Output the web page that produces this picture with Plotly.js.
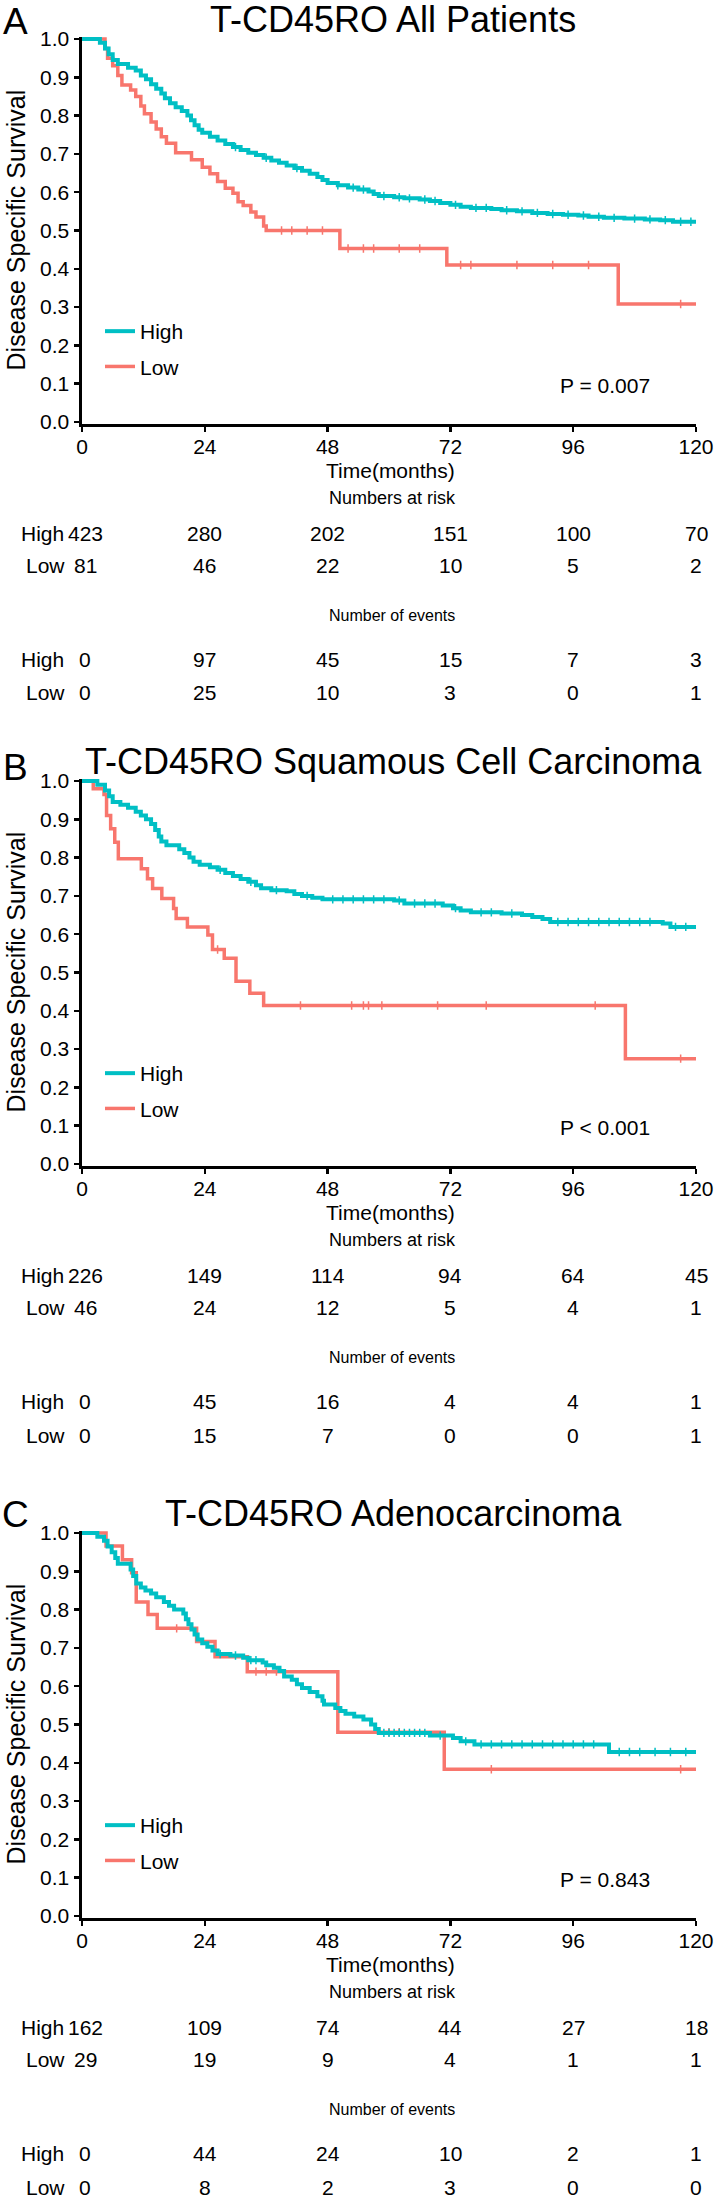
<!DOCTYPE html>
<html>
<head>
<meta charset="utf-8">
<script src="https://cdn.plot.ly/plotly-3.0.1.min.js"></script>
<style>html,body{margin:0;padding:0;background:#fff;}</style>
</head>
<body>
<div id="chart" style="width:721px;height:2200px;"></div>
<script>
// ---------------- DATA ----------------
const timeTicks = [0, 24, 48, 72, 96, 120];
const survTicks = [0, 0.1, 0.2, 0.3, 0.4, 0.5, 0.6, 0.7, 0.8, 0.9, 1.0];
const panelLetters = ['A', 'B', 'C'];
const panelTitles = ['T-CD45RO All Patients', 'T-CD45RO Squamous Cell Carcinoma', 'T-CD45RO Adenocarcinoma'];
const pValues = ['P = 0.007', 'P < 0.001', 'P = 0.843'];
const groupNames = ['High', 'Low'];
const xTitle = 'Time(months)';
const yTitle = 'Disease Specific Survival';

// Panel A – All patients
const A_high_t = [0,3.5,4.5,5.2,6,7,9,10.5,11.5,12.5,13.5,14.5,15.5,16.2,17.2,18.3,19.5,20.6,21.3,22,22.8,23.5,25,26.5,28,29.5,31,32.5,34,35.5,37,38.5,40,41.5,43,44.5,46,47,48,50,52,54,56,57,58,61,63,66,68,70,72,74,76,80,82,85,88,91,94,97,99,102,106,110,113,115.5,120];
const A_high_s = [1.0,0.99,0.975,0.96,0.945,0.935,0.925,0.918,0.905,0.895,0.882,0.87,0.858,0.845,0.832,0.822,0.812,0.8,0.788,0.775,0.763,0.755,0.745,0.735,0.726,0.718,0.71,0.703,0.697,0.69,0.683,0.677,0.67,0.663,0.656,0.648,0.64,0.632,0.624,0.618,0.612,0.607,0.602,0.595,0.59,0.587,0.584,0.581,0.577,0.572,0.567,0.562,0.559,0.556,0.553,0.55,0.546,0.543,0.541,0.539,0.536,0.533,0.531,0.529,0.527,0.523,0.523];
const A_high_cens = [30,36,42,50,53,55,59,62,64,67,69,73,77,79,83,86,89,92,95,98,101,104,108,111,114,117,119];
const A_low_t = [0,4.5,5,6,7,7.8,9.5,10.5,11.5,12.2,13.5,14.5,15.5,16.5,18.3,21.4,23.5,25,26.5,28,29.5,30.5,31.5,33,34,35.5,36,50.4,71.3,104.8,120];
const A_low_s = [1,0.975,0.95,0.93,0.905,0.88,0.867,0.85,0.825,0.805,0.783,0.765,0.745,0.728,0.703,0.685,0.665,0.648,0.628,0.61,0.597,0.575,0.565,0.548,0.535,0.512,0.5,0.453,0.41,0.308,0.308];
const A_low_cens = [39,41,44,47,52,55,57,62,66,74,76,85,92,99,117];
const A_risk_high = [423, 280, 202, 151, 100, 70];
const A_risk_low = [81, 46, 22, 10, 5, 2];
const A_events_high = [0, 97, 45, 15, 7, 3];
const A_events_low = [0, 25, 10, 3, 0, 1];

// Panel B – Squamous cell carcinoma
const B_high_t = [0,3,4.5,5.3,6,7.5,9,10.5,11.5,12.5,13.5,14.3,15,15.5,16.5,19,20,21,21.8,23,25,26.5,28,29.5,31,32.5,34,35,37,40,41.5,43,45,47,61,63,70.5,72.5,74,76,82,86,88,90,91.5,113.5,115,120];
const B_high_s = [1,0.99,0.975,0.96,0.945,0.938,0.93,0.92,0.91,0.9,0.888,0.872,0.855,0.842,0.832,0.822,0.812,0.8,0.789,0.781,0.775,0.768,0.76,0.752,0.744,0.737,0.728,0.72,0.715,0.712,0.705,0.7,0.695,0.691,0.688,0.68,0.675,0.668,0.662,0.657,0.654,0.65,0.645,0.64,0.632,0.628,0.619,0.619];
const B_high_cens = [27,33,38,44,49,51,53,55,57,59,62,65,67,69,73,78,80,84,93,95,97,99,101,103,105,107,109,111,116,118];
const B_low_t = [0,2.2,4.3,4.8,5.6,6.4,7.1,11.6,12.8,13.8,15.6,17.9,18.4,20.6,24.6,25.5,27.8,30.1,32.8,35.5,106.2,120];
const B_low_s = [1,0.98,0.965,0.91,0.875,0.84,0.797,0.771,0.745,0.719,0.693,0.667,0.641,0.619,0.598,0.56,0.537,0.477,0.446,0.414,0.275,0.275];
const B_low_cens = [26.5,42.7,52.7,55,56,58.6,69.5,79,100.3,117];
const B_risk_high = [226, 149, 114, 94, 64, 45];
const B_risk_low = [46, 24, 12, 5, 4, 1];
const B_events_high = [0, 45, 16, 4, 4, 1];
const B_events_low = [0, 15, 7, 0, 0, 1];

// Panel C – Adenocarcinoma
const C_high_t = [0,3,4.3,5,5.8,6.5,7,9.5,10,10.6,11.5,12.4,13.5,14.5,16,17,18,19.8,20.3,20.8,21.4,22,22.6,23.5,24.5,25.5,26.5,29,31.5,32.5,35.3,36,37.5,38.6,39.5,41,42,43,44.5,46,47,47.3,49.5,50.5,51.5,53.2,55,56.5,57.3,58,68,72.5,74,76.7,103,120];
const C_high_s = [1,0.99,0.98,0.965,0.95,0.935,0.92,0.905,0.888,0.868,0.858,0.85,0.842,0.832,0.82,0.81,0.8,0.79,0.775,0.762,0.748,0.735,0.722,0.712,0.703,0.693,0.684,0.68,0.674,0.668,0.662,0.655,0.648,0.64,0.625,0.617,0.605,0.595,0.585,0.574,0.562,0.552,0.543,0.535,0.528,0.521,0.513,0.5,0.488,0.478,0.471,0.465,0.456,0.448,0.428,0.428];
const C_high_cens = [27,30,33,34,59,60,61,62,63,64,65,66,67,70,75,78,80,82,84,86,88,90,92,94,96,98,100,105,107,109,112,115,118];
const C_low_t = [0,4.7,7.9,9.7,10.6,12.9,14.7,22.4,26,32.3,50,70.8,120];
const C_low_s = [1,0.966,0.93,0.896,0.82,0.787,0.751,0.717,0.677,0.638,0.48,0.383,0.383];
const C_low_cens = [18.5,34,36,38,60,62,80,117];
const C_risk_high = [162, 109, 74, 44, 27, 18];
const C_risk_low = [29, 19, 9, 4, 1, 1];
const C_events_high = [0, 44, 24, 10, 2, 1];
const C_events_low = [0, 8, 2, 3, 0, 0];

// ---------------- BUILD ----------------
const panels = [
  {high:{t:A_high_t,s:A_high_s,c:A_high_cens}, low:{t:A_low_t,s:A_low_s,c:A_low_cens},
   riskH:A_risk_high, riskL:A_risk_low, evH:A_events_high, evL:A_events_low},
  {high:{t:B_high_t,s:B_high_s,c:B_high_cens}, low:{t:B_low_t,s:B_low_s,c:B_low_cens},
   riskH:B_risk_high, riskL:B_risk_low, evH:B_events_high, evL:B_events_low},
  {high:{t:C_high_t,s:C_high_s,c:C_high_cens}, low:{t:C_low_t,s:C_low_s,c:C_low_cens},
   riskH:C_risk_high, riskL:C_risk_low, evH:C_events_high, evL:C_events_low}
];

const W = 721, H = 2200;
const FONT = 'Liberation Sans, Arial, Helvetica, sans-serif';
const TEAL = '#00BFC4', SALMON = '#F8766D';
const panelTop = [39, 781, 1533];      // pixel row of survival = 1.0
const letterOff = [17.5, 13.5, 18.5];
const unitPx = 383;                    // pixels for survival 0 -> 1
const yLo = -0.004, yHi = 1.006;
const plotL = 82, plotR = 696;

const px = v => v / W;
const py = v => 1 - v / H;

function stepAt(ts, ss, t) {
  let v = ss[0];
  for (let i = 0; i < ts.length; i++) if (ts[i] <= t) v = ss[i];
  return v;
}

const traces = [];
const annotations = [];
const layout = {
  width: W, height: H,
  margin: {l: 0, r: 0, t: 0, b: 0},
  paper_bgcolor: '#fff', plot_bgcolor: '#fff',
  font: {family: FONT, color: '#000'},
  annotations: annotations
};

panels.forEach((p, k) => {
  const suf = k === 0 ? '' : String(k + 1);
  const xa = 'x' + suf, ya = 'y' + suf;
  const legName = 'legend' + suf;
  const top = panelTop[k];
  const domTop = top - (yHi - 1) * unitPx;
  const domBot = top + (1 - yLo) * unitPx;

  const axisCommon = {
    showline: true, linewidth: 3.5, linecolor: '#000',
    ticks: 'outside', ticklen: 5, tickwidth: 2.5, tickcolor: '#000',
    showgrid: false, zeroline: false, fixedrange: true,
    tickfont: {family: FONT, size: 21, color: '#000'}
  };
  layout['xaxis' + suf] = Object.assign({}, axisCommon, {
    domain: [px(plotL), px(plotR)], anchor: ya,
    range: [0, 120], tickmode: 'array', tickvals: timeTicks,
    ticklabelstandoff: -3
  });
  layout['yaxis' + suf] = Object.assign({}, axisCommon, {
    domain: [py(domBot), py(domTop)], anchor: xa,
    range: [yLo, yHi], tickmode: 'array', tickvals: survTicks, tickformat: '.1f',
    title: {text: yTitle, font: {family: FONT, size: 25, color: '#000'}, standoff: 8}
  });
  layout[legName] = {
    x: px(100), xanchor: 'left', y: py(top + 272), yanchor: 'top',
    bgcolor: 'rgba(0,0,0,0)', borderwidth: 0,
    font: {family: FONT, size: 21, color: '#000'},
    tracegroupgap: 5, itemwidth: 30, traceorder: 'grouped'
  };

  const groups = [[p.low, SALMON, groupNames[1]], [p.high, TEAL, groupNames[0]]];
  groups.forEach(([g, col, name]) => {
    traces.push({
      type: 'scatter', mode: 'lines', x: g.t, y: g.s, xaxis: xa, yaxis: ya,
      line: {shape: 'hv', color: col, width: name === 'High' ? 4 : 3.5},
      name: name, legend: legName, legendgroup: name + k,
      legendrank: name === 'High' ? 1 : 2, hoverinfo: 'skip'
    });
    traces.push({
      type: 'scatter', mode: 'markers', x: g.c, y: g.c.map(t => stepAt(g.t, g.s, t)),
      xaxis: xa, yaxis: ya, showlegend: false, hoverinfo: 'skip',
      marker: {symbol: 'line-ns-open', size: 6, color: col, line: {color: col, width: 1.5}}
    });
  });

  // panel letter, title, x-axis title, p value
  annotations.push({xref: 'paper', yref: 'paper', x: px(15), y: py(top - letterOff[k]),
    text: panelLetters[k], showarrow: false, xanchor: 'center', yanchor: 'middle',
    font: {family: FONT, size: 37, color: '#000'}});
  annotations.push({xref: 'paper', yref: 'paper', x: px(393), y: py(top - 20),
    text: panelTitles[k], showarrow: false, xanchor: 'center', yanchor: 'middle',
    font: {family: FONT, size: 36, color: '#000'}});
  annotations.push({xref: 'paper', yref: 'paper', x: px(390), y: py(top + 431),
    text: xTitle, showarrow: false, xanchor: 'center', yanchor: 'middle',
    font: {family: FONT, size: 21, color: '#000'}});
  annotations.push({xref: 'paper', yref: 'paper', x: px(605), y: py(top + 346),
    text: pValues[k], showarrow: false, xanchor: 'center', yanchor: 'middle',
    font: {family: FONT, size: 21, color: '#000'}});

  // risk tables
  annotations.push({xref: 'paper', yref: 'paper', x: px(392), y: py(top + 459),
    text: 'Numbers at risk', showarrow: false, xanchor: 'center', yanchor: 'middle',
    font: {family: FONT, size: 18, color: '#000'}});
  annotations.push({xref: 'paper', yref: 'paper', x: px(392), y: py(top + 576),
    text: 'Number of events', showarrow: false, xanchor: 'center', yanchor: 'middle',
    font: {family: FONT, size: 16, color: '#000'}});
  const rows = [
    [groupNames[0], p.riskH, 494, 19],
    [groupNames[1], p.riskL, 526, 24],
    [groupNames[0], p.evH, 620, 19],
    [groupNames[1], p.evL, 654, 24]
  ];
  rows.forEach(([lab, vals, off, lx]) => {
    annotations.push({xref: 'paper', yref: 'paper', x: px(lx), y: py(top + off),
      text: lab, showarrow: false, xanchor: 'left', yanchor: 'middle',
      font: {family: FONT, size: 21, color: '#000'}});
    vals.forEach((v, i) => {
      annotations.push({xref: xa, yref: 'paper', x: timeTicks[i], y: py(top + off),
        text: String(v), showarrow: false, xanchor: 'center', yanchor: 'middle',
        xshift: i === 0 ? 3 : 0,
        font: {family: FONT, size: 21, color: '#000'}});
    });
  });
});

Plotly.newPlot('chart', traces, layout, {displayModeBar: false, staticPlot: true});
</script>
</body>
</html>
